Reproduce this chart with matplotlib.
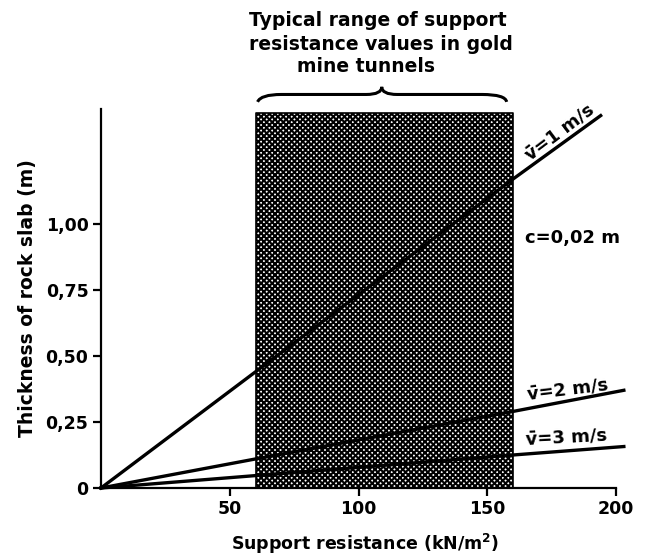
import matplotlib
matplotlib.use("Agg")
import matplotlib.pyplot as plt
from matplotlib.path import Path
from matplotlib.patches import PathPatch

plt.rcParams['font.family'] = ['DejaVu Sans']
plt.rcParams['hatch.linewidth'] = 1.5
plt.rcParams['mathtext.fontset'] = 'dejavusans'

# Data
x_v1 = [0, 60, 160, 194]
y_v1 = [0, 0.44, 1.17, 1.41]
x_v2 = [0, 60, 160, 203]
y_v2 = [0, 0.11, 0.29, 0.37]
x_v3 = [0, 60, 160, 203]
y_v3 = [0, 0.047, 0.125, 0.157]
range_lo, range_hi = 60, 160
range_top = 1.42
xticks = [50, 100, 150, 200]
yticks = [0, 0.25, 0.50, 0.75, 1.00]
ytick_labels = ['0', '0,25', '0,50', '0,75', '1,00']

W, H = 648, 559
fig = plt.figure(figsize=(W / 100, H / 100), dpi=100)
ax = fig.add_axes([101 / W, 71 / H, 528 / W, 379 / H])
ax.set_xlim(0, 205)
ax.set_ylim(0, 1.435)

# shaded typical range
ax.fill_between([range_lo, range_hi], 0, range_top, facecolor='white',
                edgecolor='black', hatch='xxxxxx', linewidth=1.2, zorder=1)

lw = 2.4
ax.plot(x_v1, y_v1, color='black', lw=lw, clip_on=False, zorder=3)
ax.plot(x_v2, y_v2, color='black', lw=lw, clip_on=False, zorder=3)
ax.plot(x_v3, y_v3, color='black', lw=lw, clip_on=False, zorder=3)

for s in ['top', 'right']:
    ax.spines[s].set_visible(False)
for s in ['left', 'bottom']:
    ax.spines[s].set_linewidth(1.6)
ax.spines['bottom'].set_bounds(0, 200)

ax.set_xticks(xticks)
ax.set_xticklabels([str(v) for v in xticks])
ax.set_yticks(yticks)
ax.set_yticklabels(ytick_labels)
ax.tick_params(direction='out', length=6, width=1.6, labelsize=12.5, pad=3)
for lab in ax.get_xticklabels() + ax.get_yticklabels():
    lab.set_fontweight('bold')

ax.set_xlabel('Support resistance (kN/m$^{\\mathbf{2}}$)', fontsize=12.5, fontweight='bold', labelpad=10)
ax.set_ylabel('Thickness of rock slab (m)', fontsize=13.5, fontweight='bold', labelpad=6)

# line labels
ax.text(178, 1.345, 'v\u0304=1 m/s', rotation=37, ha='center', va='center',
        fontsize=13, fontweight='bold', rotation_mode='anchor')
ax.text(181, 0.372, 'v\u0304=2 m/s', rotation=7, ha='center', va='center',
        fontsize=13, fontweight='bold', rotation_mode='anchor')
ax.text(180.5, 0.19, 'v\u0304=3 m/s', rotation=3, ha='center', va='center',
        fontsize=13, fontweight='bold', rotation_mode='anchor')
ax.text(183, 0.947, 'c=0,02 m', ha='center', va='center', fontsize=13, fontweight='bold')

# curly brace above the range
verts = [(60.8, 1.462), (62, 1.49), (70, 1.49), (103, 1.49),
         (109, 1.49), (109, 1.519), (109, 1.49), (115, 1.49),
         (148, 1.49), (157, 1.49), (157.5, 1.462)]
codes = [Path.MOVETO, Path.CURVE3, Path.CURVE3, Path.LINETO,
         Path.CURVE3, Path.CURVE3, Path.CURVE3, Path.CURVE3,
         Path.LINETO, Path.CURVE3, Path.CURVE3]
ax.add_patch(PathPatch(Path(verts, codes), facecolor='none', edgecolor='black',
                       lw=2.2, clip_on=False))

title_lines = [('Typical range of support', 378, 20),
               ('resistance values in gold', 381, 45),
               ('mine tunnels', 366, 67)]
for txt, px, py in title_lines:
    fig.text(px / W, 1 - py / H, txt, ha='center', va='center', fontsize=13.5, fontweight='bold')

fig.savefig('out.png', dpi=100)
